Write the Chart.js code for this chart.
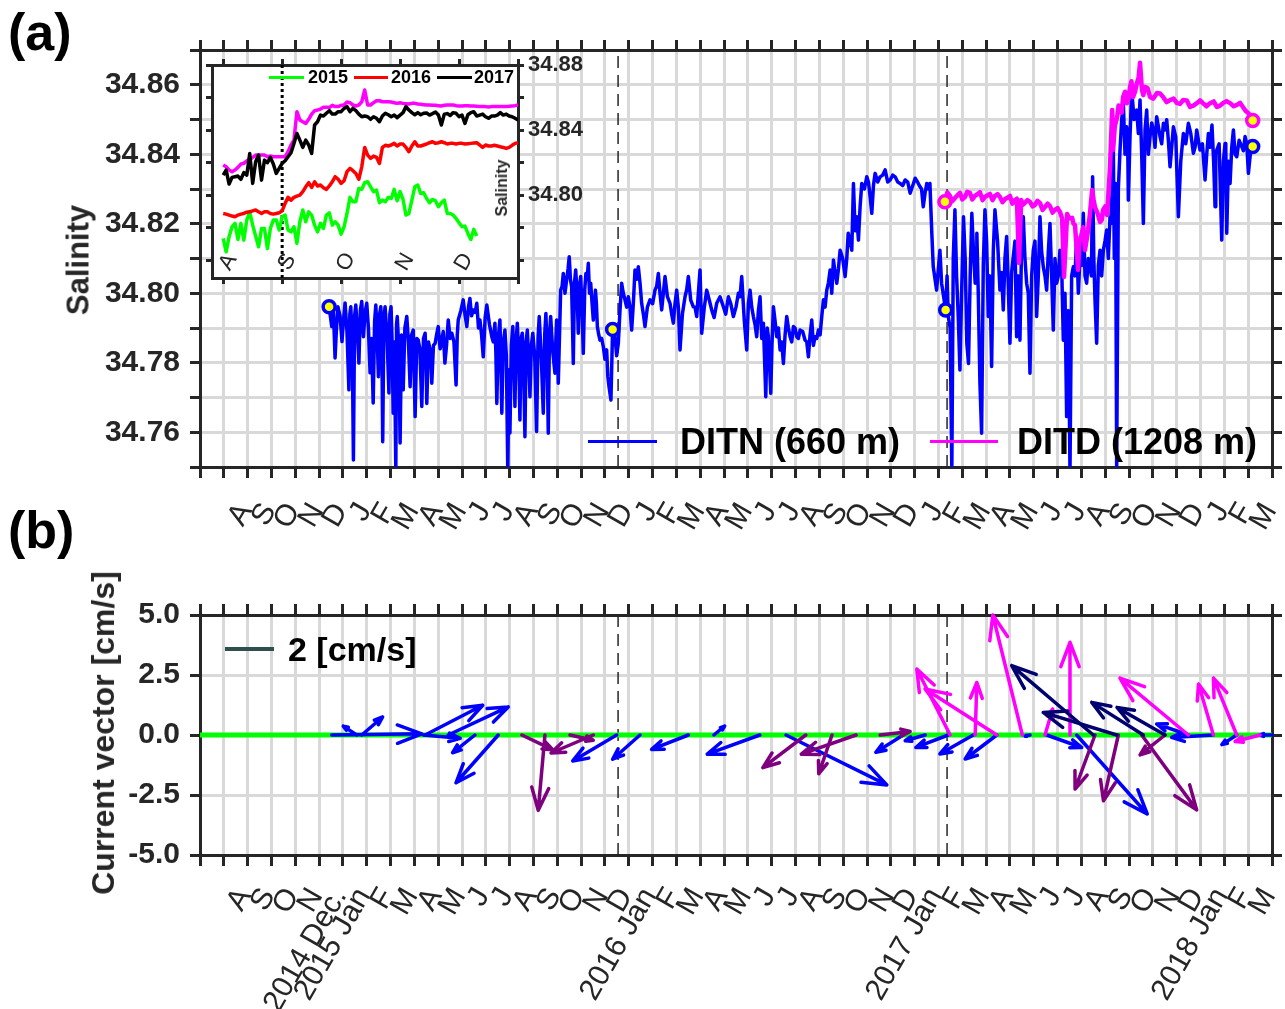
<!DOCTYPE html>
<html>
<head>
<meta charset="utf-8">
<script src="https://cdn.jsdelivr.net/npm/chart.js@4.4.1/dist/chart.umd.min.js"></script>
<style>
  html, body { margin: 0; padding: 0; background: #fff; overflow: hidden; }
  #fig { position: relative; width: 1285px; height: 1009px; font-family: "Liberation Sans", Arial, sans-serif; }
  #fig canvas { position: absolute; }
  .txt { position: absolute; font-weight: bold; line-height: 1; white-space: nowrap; color: #000; }
  .vtxt { position: absolute; font-weight: bold; line-height: 1; white-space: nowrap; color: #262626;
          transform: translate(-50%, -50%) rotate(-90deg); }
  .key { position: absolute; }
</style>
</head>
<body>
<div id="fig">
  <canvas id="chartA" width="1285" height="560" style="left:0;top:0"></canvas>
  <canvas id="chartB" width="1285" height="449" style="left:0;top:560px"></canvas>
  <canvas id="inset" width="410" height="260" style="left:190px;top:40px"></canvas>

  <div class="txt" style="left:8px;top:6px;font-size:52px">(a)</div>
  <div class="txt" style="left:8px;top:504px;font-size:52px">(b)</div>
  <div class="vtxt" style="left:78px;top:260px;font-size:31px">Salinity</div>
  <div class="vtxt" style="left:103px;top:733px;font-size:32px">Current vector [cm/s]</div>

  <div class="key" style="left:588px;top:440px;width:69px;height:3px;background:#0000ff"></div>
  <div class="txt" style="left:680px;top:424px;font-size:36px">DITN (660 m)</div>
  <div class="key" style="left:930px;top:440px;width:68px;height:3px;background:#ff00ff"></div>
  <div class="txt" style="left:1017px;top:424px;font-size:36px">DITD (1208 m)</div>

  <div class="key" style="left:225px;top:647px;width:49px;height:4px;background:#2f4f4f"></div>
  <div class="txt" style="left:288px;top:632px;font-size:34px">2 [cm/s]</div>

  <div class="key" style="left:269px;top:76px;width:35px;height:3px;background:#00ff00"></div>
  <div class="txt" style="left:308px;top:68px;font-size:18px">2015</div>
  <div class="key" style="left:354px;top:76px;width:34px;height:3px;background:#ff0000"></div>
  <div class="txt" style="left:391px;top:68px;font-size:18px">2016</div>
  <div class="key" style="left:437px;top:76px;width:35px;height:3px;background:#000000"></div>
  <div class="txt" style="left:474px;top:68px;font-size:18px">2017</div>
  <div class="vtxt" style="left:502px;top:188px;font-size:16px">Salinity</div>
</div>

<script>
// ---------- data ----------
// month tick labels (ticks are evenly spaced, index 0..45)
const monthLabelsA = ['', '', 'A', 'S', 'O', 'N', 'D', 'J', 'F', 'M', 'A', 'M', 'J', 'J',
  'A', 'S', 'O', 'N', 'D', 'J', 'F', 'M', 'A', 'M', 'J', 'J',
  'A', 'S', 'O', 'N', 'D', 'J', 'F', 'M', 'A', 'M', 'J', 'J',
  'A', 'S', 'O', 'N', 'D', 'J', 'F', 'M'];
const monthLabelsB = ['', '', 'A', 'S', 'O', 'N', '2014 Dec.', '2015 Jan', 'F', 'M', 'A', 'M', 'J', 'J',
  'A', 'S', 'O', 'N', 'D', '2016 Jan', 'F', 'M', 'A', 'M', 'J', 'J',
  'A', 'S', 'O', 'N', 'D', '2017 Jan', 'F', 'M', 'A', 'M', 'J', 'J',
  'A', 'S', 'O', 'N', 'D', '2018 Jan', 'F', 'M'];
const salinityTicks = [34.75, 34.76, 34.77, 34.78, 34.79, 34.80, 34.81, 34.82, 34.83, 34.84, 34.85, 34.86, 34.87];
const currentTicks = [-5, -2.5, 0, 2.5, 5];
const yearLines = [17.55, 31.36]; // 2016 Jan, 2017 Jan

// DITN (660 m) salinity, time in tick units: peaks and dips
const ditnTime = [5.42, 5.53, 5.67, 5.79, 5.96, 6.09, 6.25, 6.33, 6.44, 6.54,
  6.67, 6.79, 6.86, 7.00, 7.14, 7.27, 7.38, 7.49, 7.59, 7.67,
  7.77, 7.93, 8.02, 8.11, 8.22, 8.28, 8.40, 8.53, 8.68, 8.82,
  8.95, 9.03, 9.16, 9.31, 9.45, 9.52, 9.66, 9.73, 9.87, 10.00,
  10.15, 10.28, 10.42, 10.57, 10.75, 10.84, 11.05, 11.20, 11.33, 11.47,
  11.62, 11.75, 11.89, 12.04, 12.25, 12.38, 12.46, 12.59, 12.67, 12.80,
  12.92, 13.01, 13.13, 13.22, 13.32, 13.43, 13.53, 13.64, 13.74, 13.85,
  13.97, 14.13, 14.24, 14.41, 14.52, 14.62, 14.72, 14.90, 14.97, 15.04,
  15.14, 15.25, 15.39, 15.50, 15.60, 15.67, 15.77, 15.88, 15.98, 16.09,
  16.20, 16.30, 16.40, 16.51, 16.60, 16.68, 16.79, 16.93, 17.07, 17.17,
  17.25, 17.32, 17.42, 17.56, 17.70, 17.84, 17.98, 18.12, 18.26, 18.40,
  18.54, 18.68, 18.89, 19.10, 19.24, 19.38, 19.52, 19.73, 19.87, 20.01,
  20.15, 20.36, 20.50, 20.71, 20.85, 20.99, 21.06, 21.27, 21.48, 21.69,
  21.97, 22.18, 22.39, 22.60, 22.74, 22.95, 23.09, 23.23, 23.37, 23.51,
  23.65, 23.75, 23.86, 23.96, 24.07, 24.21, 24.35, 24.49, 24.63, 24.77,
  24.91, 25.05, 25.19, 25.40, 25.54, 25.68, 25.82, 25.96, 26.10, 26.17,
  26.31, 26.45, 26.59, 26.73, 26.87, 27.08, 27.21, 27.36, 27.43, 27.57,
  27.64, 27.78, 27.99, 28.13, 28.20, 28.34, 28.55, 28.76, 28.97, 29.18,
  29.39, 29.60, 29.81, 30.02, 30.22, 30.36, 30.51, 30.64, 30.72, 30.78,
  30.92, 31.06, 31.13, 31.30, 31.41, 31.56, 31.69, 31.83, 31.90, 32.05,
  32.19, 32.26, 32.40, 32.54, 32.61, 32.74, 32.81, 32.95, 33.09, 33.23,
  33.37, 33.58, 33.72, 33.86, 34.00, 34.14, 34.28, 34.42, 34.56, 34.70,
  34.84, 34.98, 35.12, 35.26, 35.40, 35.54, 35.68, 35.82, 35.96, 36.10,
  36.24, 36.38, 36.52, 36.66, 36.80, 36.94, 37.08, 37.22, 37.36, 37.47,
  37.57, 37.64, 37.78, 37.92, 38.06, 38.20, 38.27, 38.34, 38.41, 38.48,
  38.62, 38.76, 38.90, 38.97, 39.11, 39.32, 39.46, 39.60, 39.74, 39.88,
  40.02, 40.16, 40.30, 40.44, 40.58, 40.72, 40.86, 41.07, 41.28, 41.49,
  41.70, 41.84, 41.98, 42.19, 42.33, 42.48, 42.61, 42.68, 42.89, 43.03,
  43.10, 43.24, 43.38, 43.52, 43.73, 43.87, 44.01, 44.11, 44.19];
const ditnSalinity = [34.7961, 34.7904, 34.7814, 34.7961, 34.7861, 34.7972, 34.7722, 34.7961, 34.7520, 34.7966,
  34.7799, 34.7976, 34.7875, 34.7971, 34.7771, 34.7684, 34.7966, 34.7760, 34.7961, 34.7573,
  34.7961, 34.7713, 34.7961, 34.7655, 34.7490, 34.7933, 34.7569, 34.7722, 34.7933, 34.7731,
  34.7894, 34.7645, 34.7865, 34.7674, 34.7885, 34.7683, 34.7837, 34.7741, 34.7856, 34.7904,
  34.7865, 34.7799, 34.7923, 34.7885, 34.7736, 34.7923, 34.7981, 34.7904, 34.7985, 34.7952,
  34.7971, 34.7923, 34.7817, 34.7966, 34.7875, 34.7914, 34.7683, 34.7923, 34.7655, 34.7894,
  34.7490, 34.7598, 34.7904, 34.7674, 34.7914, 34.7635, 34.7885, 34.7587, 34.7894, 34.7702,
  34.7885, 34.7602, 34.7933, 34.7655, 34.7942, 34.7597, 34.7933, 34.7770, 34.7923, 34.7741,
  34.8009, 34.8057, 34.8038, 34.8105, 34.8019, 34.7798, 34.8067, 34.7885, 34.8048, 34.7827,
  34.8057, 34.8086, 34.8029, 34.7923, 34.8009, 34.7904, 34.7865, 34.7846, 34.7837, 34.7731,
  34.7693, 34.7896, 34.7875, 34.7856, 34.8029, 34.7981, 34.7990, 34.7894, 34.8067, 34.8076,
  34.7971, 34.7904, 34.7981, 34.8009, 34.8057, 34.7952, 34.8048, 34.7971, 34.7914, 34.8009,
  34.7837, 34.7990, 34.8048, 34.7961, 34.7933, 34.8067, 34.7885, 34.8009, 34.7952, 34.7971,
  34.7961, 34.7990, 34.7933, 34.8000, 34.8048, 34.7837, 34.8009, 34.7933, 34.7875, 34.7990,
  34.7914, 34.7702, 34.7875, 34.7712, 34.7961, 34.7875, 34.7837, 34.7798, 34.7933, 34.7875,
  34.7904, 34.7875, 34.7894, 34.7865, 34.7817, 34.7923, 34.7875, 34.7894, 34.7933, 34.7981,
  34.8009, 34.8067, 34.8096, 34.8029, 34.8124, 34.8048, 34.8173, 34.8124, 34.8316, 34.8220,
  34.8153, 34.8316, 34.8335, 34.8278, 34.8230, 34.8345, 34.8335, 34.8355, 34.8326, 34.8335,
  34.8316, 34.8326, 34.8288, 34.8331, 34.8307, 34.8249, 34.8316, 34.8316, 34.8173, 34.8076,
  34.8009, 34.8124, 34.8029, 34.7952, 34.7933, 34.7490, 34.8240, 34.7933, 34.7779, 34.8220,
  34.7856, 34.7798, 34.8230, 34.8029, 34.8173, 34.7741, 34.7597, 34.8240, 34.7933, 34.7789,
  34.8240, 34.8009, 34.7952, 34.8163, 34.7856, 34.8105, 34.7875, 34.7865, 34.8220, 34.8029,
  34.7770, 34.8124, 34.7933, 34.8220, 34.8076, 34.8009, 34.8201, 34.7894, 34.8029, 34.8124,
  34.7865, 34.7645, 34.7490, 34.8076, 34.8163, 34.8105, 34.8230, 34.8029, 34.8076, 34.8335,
  34.7981, 34.7856, 34.8124, 34.8124, 34.8182, 34.8220, 34.8268, 34.8412, 34.8316, 34.7490,
  34.8412, 34.8547, 34.8479, 34.8268, 34.8585, 34.8527, 34.8556, 34.8201, 34.8527, 34.8451,
  34.8470, 34.8508, 34.8451, 34.8489, 34.8499, 34.8364, 34.8479, 34.8220, 34.8460, 34.8489,
  34.8403, 34.8470, 34.8412, 34.8326, 34.8460, 34.8484, 34.8249, 34.8412, 34.8153, 34.8431,
  34.8173, 34.8316, 34.8470, 34.8393, 34.8422, 34.8451, 34.8345, 34.8412, 34.8422];
// DITN readings of the dense middle of the band, between the peaks and dips above
const ditnBandTime = [5.48, 5.60, 5.73, 5.88, 6.02, 6.17, 6.29, 6.39, 6.49, 6.60,
  6.73, 6.83, 6.93, 7.07, 7.20, 7.33, 7.43, 7.54, 7.63, 7.72,
  7.85, 7.97, 8.06, 8.16, 8.25, 8.34, 8.46, 8.60, 8.75, 8.88,
  9.10, 9.23, 9.38, 9.49, 9.59, 9.70, 9.80, 9.93, 10.08, 10.21,
  10.35, 10.50, 10.66, 10.80, 10.95, 11.12, 11.27, 11.40, 11.55, 11.69,
  11.82, 11.97, 12.15, 12.31, 12.42, 12.52, 12.63, 12.73, 12.86, 12.97,
  13.07, 13.18, 13.27, 13.38, 13.48, 13.58, 13.69, 13.80, 13.91, 14.05,
  14.19, 14.33, 14.47, 14.57, 14.67, 14.81, 14.94, 15.01, 15.20, 15.32,
  15.45, 15.55, 15.64, 15.72, 15.83, 15.93, 16.04, 16.15, 16.25, 16.35,
  16.46, 16.56, 16.64, 16.74, 16.86, 17.00, 17.12, 17.49, 17.63, 17.77,
  17.91, 18.05, 18.19, 18.33, 18.47, 18.61, 18.78, 19.00, 19.17, 19.31,
  19.45, 19.62, 19.80, 19.94, 20.08, 20.25, 20.43, 20.60, 20.78, 20.92,
  21.17, 21.38, 21.58, 21.83, 22.07, 22.28, 22.50, 22.67, 22.85, 23.02,
  23.16, 23.30, 23.44, 23.58, 23.81, 24.01, 24.14, 24.28, 24.42, 24.56,
  24.70, 24.84, 24.98, 25.12, 25.30, 25.47, 25.61, 25.75, 25.89, 26.03,
  26.24, 26.38, 26.52, 26.66, 26.80, 26.98, 27.15, 27.29, 27.50, 27.71,
  27.89, 28.06, 28.27, 28.45, 28.66, 28.87, 29.08, 29.29, 29.50, 29.71,
  29.92, 30.12, 30.29, 30.44, 30.58, 31.36, 31.49, 31.62, 31.76, 31.97,
  32.12, 32.33, 32.47, 32.58, 32.67, 32.88, 33.02, 33.16, 33.30, 33.48,
  33.65, 33.79, 33.93, 34.07, 34.21, 34.35, 34.49, 34.63, 34.77, 34.91,
  35.05, 35.19, 35.33, 35.47, 35.61, 35.75, 35.89, 36.03, 36.17, 36.31,
  36.45, 36.59, 36.73, 36.87, 37.01, 37.15, 37.29, 37.42, 37.52, 37.71,
  37.85, 37.99, 38.13, 38.23, 38.30, 38.38, 38.44, 38.55, 38.69, 38.83,
  38.94, 39.04, 39.21, 39.39, 39.53, 39.67, 39.81, 39.95, 40.09, 40.23,
  40.37, 40.51, 40.65, 40.79, 40.96, 41.17, 41.38, 41.59, 41.77, 41.91,
  42.08, 42.26, 42.40, 42.55, 42.64, 42.78, 42.96, 43.06, 43.17, 43.31,
  43.45, 43.62, 43.80, 43.94, 44.06, 44.15];
const ditnBandSalinity = [34.7930, 34.7950, 34.7900, 34.7935, 34.7920, 34.7890, 34.7940, 34.7860, 34.7935, 34.7900,
  34.7950, 34.7920, 34.7945, 34.7900, 34.7870, 34.7920, 34.7890, 34.7940, 34.7880, 34.7930,
  34.7880, 34.7940, 34.7870, 34.7860, 34.7910, 34.7850, 34.7880, 34.7900, 34.7860, 34.7880,
  34.7870, 34.7840, 34.7870, 34.7810, 34.7860, 34.7800, 34.7850, 34.7880, 34.7840, 34.7890,
  34.7850, 34.7870, 34.7860, 34.7880, 34.7950, 34.7940, 34.7960, 34.7935, 34.7945, 34.7900,
  34.7880, 34.7930, 34.7910, 34.7860, 34.7830, 34.7870, 34.7800, 34.7860, 34.7820, 34.7780,
  34.7850, 34.7800, 34.7860, 34.7820, 34.7870, 34.7800, 34.7860, 34.7810, 34.7850, 34.7820,
  34.7870, 34.7810, 34.7880, 34.7830, 34.7880, 34.7830, 34.7870, 34.7850, 34.8020, 34.8000,
  34.8070, 34.8040, 34.7900, 34.8030, 34.8000, 34.8020, 34.7950, 34.8010, 34.8040, 34.8000,
  34.7970, 34.7960, 34.7970, 34.7880, 34.7870, 34.7810, 34.7760, 34.7820, 34.7950, 34.8000,
  34.7960, 34.7960, 34.7970, 34.8040, 34.8030, 34.7940, 34.7960, 34.7970, 34.8020, 34.8000,
  34.8000, 34.7990, 34.7940, 34.7970, 34.7960, 34.7940, 34.8010, 34.7980, 34.7960, 34.8000,
  34.7960, 34.7980, 34.7930, 34.7990, 34.7940, 34.7970, 34.7960, 34.7990, 34.7920, 34.7970,
  34.7960, 34.7910, 34.7950, 34.7870, 34.7900, 34.7850, 34.7920, 34.7900, 34.7860, 34.7880,
  34.7900, 34.7860, 34.7900, 34.7870, 34.7890, 34.7860, 34.7880, 34.7850, 34.7870, 34.7880,
  34.7960, 34.8030, 34.8000, 34.8060, 34.8070, 34.8100, 34.8100, 34.8150, 34.8180, 34.8250,
  34.8300, 34.8320, 34.8310, 34.8320, 34.8340, 34.8320, 34.8340, 34.8320, 34.8310, 34.8320,
  34.8310, 34.8320, 34.8300, 34.8290, 34.8300, 34.8050, 34.7900, 34.8100, 34.8050, 34.8000,
  34.8100, 34.8050, 34.8120, 34.8060, 34.8000, 34.8080, 34.8150, 34.8050, 34.8120, 34.8150,
  34.8060, 34.8100, 34.8020, 34.8060, 34.8150, 34.8050, 34.8150, 34.8100, 34.8000, 34.8050,
  34.8150, 34.8050, 34.8120, 34.8050, 34.8120, 34.8050, 34.8100, 34.8050, 34.8080, 34.8000,
  34.7950, 34.8050, 34.8050, 34.8000, 34.8080, 34.8050, 34.8100, 34.8050, 34.8100, 34.8080,
  34.8050, 34.8150, 34.8100, 34.8200, 34.8300, 34.8100, 34.8200, 34.8300, 34.8500, 34.8400,
  34.8450, 34.8450, 34.8500, 34.8460, 34.8400, 34.8470, 34.8400, 34.8490, 34.8420, 34.8480,
  34.8430, 34.8470, 34.8440, 34.8420, 34.8450, 34.8380, 34.8430, 34.8460, 34.8420, 34.8440,
  34.8430, 34.8400, 34.8420, 34.8380, 34.8400, 34.8430, 34.8380, 34.8420, 34.8380, 34.8420,
  34.8400, 34.8440, 34.8410, 34.8430, 34.8380, 34.8410];

// DITD (1208 m) salinity
const ditdTime = [31.27, 31.48, 31.69, 31.90, 32.11, 32.32, 32.53, 32.74, 32.95, 33.16,
  33.37, 33.58, 33.79, 34.00, 34.21, 34.38, 34.47, 34.63, 34.84, 35.05,
  35.26, 35.47, 35.68, 35.89, 36.10, 36.27, 36.40, 36.61, 36.73, 36.86,
  36.98, 37.15, 37.28, 37.45, 37.57, 37.78, 37.91, 38.08, 38.20, 38.29,
  38.33, 38.50, 38.62, 38.75, 38.91, 39.04, 39.17, 39.33, 39.46, 39.54,
  39.67, 39.88, 40.17, 40.43, 40.72, 41.01, 41.27, 41.56, 41.85, 42.10,
  42.40, 42.69, 42.94, 43.24, 43.53, 43.78, 43.99, 44.19];
const ditdSalinity = [34.8263, 34.8280, 34.8274, 34.8289, 34.8277, 34.8289, 34.8280, 34.8291, 34.8277, 34.8286,
  34.8280, 34.8277, 34.8271, 34.8280, 34.8268, 34.8087, 34.8268, 34.8260, 34.8263, 34.8254,
  34.8260, 34.8248, 34.8251, 34.8240, 34.8234, 34.8047, 34.8228, 34.8217, 34.8196, 34.8067,
  34.8162, 34.8124, 34.8182, 34.8297, 34.8248, 34.8205, 34.8240, 34.8225, 34.8363, 34.8527,
  34.8412, 34.8507, 34.8536, 34.8565, 34.8547, 34.8594, 34.8565, 34.8605, 34.8663, 34.8585,
  34.8594, 34.8565, 34.8576, 34.8565, 34.8556, 34.8547, 34.8556, 34.8536, 34.8547, 34.8547,
  34.8547, 34.8536, 34.8547, 34.8547, 34.8542, 34.8536, 34.8519, 34.8497];
const ditdBandTime = [31.37, 31.58, 31.80, 32.00, 32.21, 32.42, 32.64, 32.85, 33.06, 33.27,
  33.48, 33.69, 33.90, 34.10, 34.29, 34.55, 34.73, 34.95, 35.15, 35.37,
  35.58, 35.79, 36.00, 36.19, 36.50, 36.67, 36.92, 37.07, 37.21, 37.36,
  37.51, 37.68, 37.85, 38.00, 38.40, 38.56, 38.69, 38.83, 38.98, 39.10,
  39.25, 39.40, 39.60, 39.78, 40.02, 40.30, 40.58, 40.87, 41.14, 41.42,
  41.70, 41.98, 42.25, 42.55, 42.82, 43.09, 43.39, 43.66, 43.89, 44.10];
const ditdBandSalinity = [34.8290, 34.8265, 34.8282, 34.8270, 34.8292, 34.8270, 34.8285, 34.8268, 34.8282, 34.8268,
  34.8285, 34.8262, 34.8275, 34.8258, 34.8272, 34.8255, 34.8268, 34.8250, 34.8266, 34.8240,
  34.8258, 34.8232, 34.8245, 34.8215, 34.8215, 34.8200, 34.8150, 34.8190, 34.8150, 34.8230,
  34.8270, 34.8230, 34.8210, 34.8250, 34.8480, 34.8540, 34.8520, 34.8580, 34.8560, 34.8610,
  34.8580, 34.8620, 34.8570, 34.8590, 34.8560, 34.8575, 34.8550, 34.8560, 34.8545, 34.8555,
  34.8540, 34.8555, 34.8538, 34.8552, 34.8540, 34.8553, 34.8538, 34.8548, 34.8525, 34.8512];

// deployment start / end markers
const ditnMarkTime = [5.42, 17.32, 31.30, 44.19];
const ditnMarkSal = [34.7961, 34.7896, 34.7952, 34.8422];
const ditdMarkTime = [31.27, 44.19];
const ditdMarkSal = [34.8263, 34.8497];

// inset: Aug-Dec of each year, time in months from 1 Aug, one value every 0.05 month
const insetStep = 0.05;
const insetMonths = ['A', 'S', 'O', 'N', 'D'];
const insetMonthTicks = [0, 1, 2, 3, 4, 5];
const insetTicks = [34.76, 34.78, 34.80, 34.82, 34.84, 34.86, 34.88];
const sal2015 = [34.7733, 34.7651, 34.7744, 34.7805, 34.7826, 34.7727, 34.7826, 34.7723, 34.7846, 34.7897,
  34.7815, 34.7748, 34.7682, 34.7795, 34.7795, 34.7672, 34.7795, 34.7846, 34.7846, 34.7785,
  34.7867, 34.7877, 34.7785, 34.7774, 34.7805, 34.7703, 34.7836, 34.7908, 34.7836, 34.7897,
  34.7877, 34.7815, 34.7774, 34.7826, 34.7795, 34.7877, 34.7891, 34.7815, 34.7836, 34.7815,
  34.7760, 34.7805, 34.7887, 34.7986, 34.7959, 34.7959, 34.8041, 34.8035, 34.8076, 34.8082,
  34.8051, 34.8021, 34.8031, 34.7953, 34.7969, 34.7959, 34.7986, 34.7979, 34.8035, 34.7965,
  34.8021, 34.7973, 34.7877, 34.7887, 34.7969, 34.8051, 34.8062, 34.8010, 34.8014, 34.7979,
  34.7953, 34.7973, 34.7965, 34.7928, 34.7953, 34.7969, 34.7887, 34.7887, 34.7877, 34.7856,
  34.7830, 34.7805, 34.7809, 34.7764, 34.7727, 34.7789, 34.7748];
const sal2016 = [34.7887, 34.7883, 34.7877, 34.7871, 34.7867, 34.7877, 34.7883, 34.7887, 34.7895, 34.7897,
  34.7903, 34.7908, 34.7897, 34.7887, 34.7897, 34.7897, 34.7887, 34.7883, 34.7887, 34.7891,
  34.7903, 34.7949, 34.7986, 34.7969, 34.7986, 34.7994, 34.8000, 34.8021, 34.8051, 34.8076,
  34.8047, 34.8082, 34.8056, 34.8062, 34.8045, 34.8035, 34.8056, 34.8082, 34.8113, 34.8097,
  34.8072, 34.8088, 34.8144, 34.8164, 34.8150, 34.8133, 34.8097, 34.8174, 34.8293, 34.8246,
  34.8226, 34.8240, 34.8232, 34.8195, 34.8293, 34.8306, 34.8302, 34.8308, 34.8318, 34.8302,
  34.8314, 34.8314, 34.8293, 34.8267, 34.8302, 34.8328, 34.8302, 34.8302, 34.8308, 34.8314,
  34.8322, 34.8328, 34.8318, 34.8322, 34.8328, 34.8322, 34.8314, 34.8318, 34.8318, 34.8314,
  34.8318, 34.8318, 34.8314, 34.8316, 34.8318, 34.8320, 34.8322, 34.8308, 34.8293, 34.8308,
  34.8302, 34.8302, 34.8306, 34.8302, 34.8297, 34.8293, 34.8287, 34.8293, 34.8306, 34.8318,
  34.8322];
const sal2017 = [34.8123, 34.8154, 34.8068, 34.8109, 34.8113, 34.8117, 34.8097, 34.8138, 34.8123, 34.8256,
  34.8072, 34.8205, 34.8246, 34.8092, 34.8215, 34.8199, 34.8232, 34.8191, 34.8133, 34.8164,
  34.8195, 34.8211, 34.8236, 34.8260, 34.8318, 34.8379, 34.8338, 34.8293, 34.8338, 34.8308,
  34.8256, 34.8431, 34.8451, 34.8492, 34.8486, 34.8503, 34.8519, 34.8498, 34.8498, 34.8513,
  34.8513, 34.8533, 34.8544, 34.8513, 34.8533, 34.8519, 34.8498, 34.8482, 34.8486, 34.8482,
  34.8466, 34.8482, 34.8472, 34.8451, 34.8486, 34.8503, 34.8494, 34.8482, 34.8492, 34.8476,
  34.8492, 34.8507, 34.8544, 34.8523, 34.8507, 34.8494, 34.8507, 34.8494, 34.8503, 34.8505,
  34.8492, 34.8501, 34.8511, 34.8492, 34.8431, 34.8498, 34.8501, 34.8490, 34.8507, 34.8503,
  34.8482, 34.8492, 34.8441, 34.8494, 34.8507, 34.8513, 34.8486, 34.8492, 34.8498, 34.8482,
  34.8472, 34.8486, 34.8486, 34.8492, 34.8507, 34.8492, 34.8498, 34.8486, 34.8482, 34.8472,
  34.8462];
const sal2017deep = [34.8185, 34.8174, 34.8154, 34.8144, 34.8154, 34.8170, 34.8191, 34.8195, 34.8211, 34.8219,
  34.8232, 34.8246, 34.8246, 34.8246, 34.8246, 34.8236, 34.8240, 34.8236, 34.8236, 34.8236,
  34.8236, 34.8236, 34.8267, 34.8308, 34.8338, 34.8513, 34.8462, 34.8451, 34.8441, 34.8466,
  34.8498, 34.8519, 34.8523, 34.8529, 34.8540, 34.8540, 34.8538, 34.8552, 34.8544, 34.8544,
  34.8552, 34.8554, 34.8572, 34.8568, 34.8554, 34.8548, 34.8554, 34.8574, 34.8646, 34.8554,
  34.8554, 34.8568, 34.8580, 34.8580, 34.8574, 34.8574, 34.8574, 34.8572, 34.8568, 34.8564,
  34.8568, 34.8564, 34.8562, 34.8560, 34.8564, 34.8564, 34.8560, 34.8558, 34.8556, 34.8554,
  34.8554, 34.8552, 34.8552, 34.8550, 34.8548, 34.8552, 34.8554, 34.8554, 34.8554, 34.8550,
  34.8548, 34.8548, 34.8550, 34.8550, 34.8548, 34.8548, 34.8546, 34.8544, 34.8544, 34.8544,
  34.8542, 34.8544, 34.8544, 34.8544, 34.8544, 34.8544, 34.8544, 34.8546, 34.8548, 34.8550,
  34.8554];

// current vectors (cm/s): base time in tick units, east (u) and north (v) components
const blueTime = [5.53, 6.58, 6.79, 9.37, 9.45, 10.42, 11.54, 12.52, 17.49, 18.47, 20.50, 21.57, 23.50,
  24.60, 29.52, 30.44, 31.41, 32.46, 33.45, 34.84, 35.54, 36.80, 41.49, 42.54, 43.52, 45.00];
const blueU = [3.75, -0.56, 0.87, 1.54, 2.40, 2.50, -0.93, -1.76, -1.83, -1.14, -1.53, 0.45, -2.19,
  4.20, -1.14, -0.83, -1.35, -1.39, -1.32, -0.20, 1.46, 2.94, -1.32, -1.74, -0.62, -0.50];
const blueV = [0.05, 0.37, 0.75, -0.14, 1.24, 1.17, -0.74, -1.99, -1.08, -1.01, -0.60, 0.37, -0.80,
  -2.08, -0.72, -0.24, -0.52, -0.79, -1.00, -0.05, -0.52, -3.29, 0.46, -0.10, -0.40, 0.00];
const purpleTime = [13.51, 14.48, 15.53, 16.51, 25.43, 26.53, 27.54, 28.55, 37.57, 38.55, 39.53, 40.51];
const purpleU = [1.30, -0.28, 0.97, -1.76, -1.79, -0.55, -2.28, 1.25, -0.83, -0.62, 2.29, -1.04];
const purpleV = [-0.62, -3.14, -0.22, -0.75, -1.36, -1.61, -0.80, 0.15, -2.25, -2.74, -3.12, -0.83];
const magentaTime = [31.49, 32.54, 33.45, 34.52, 35.47, 36.52, 41.49, 42.54, 43.52, 44.50];
const magentaU = [-1.39, 0.07, -2.99, -1.23, 0.32, 0.00, -2.85, -0.62, -0.97, -1.04];
const magentaV = [2.75, 2.19, 1.92, 5.00, 1.08, 3.86, 2.37, 2.12, 2.37, -0.27];
const navyTime = [37.50, 38.48, 39.60, 40.51];
const navyU = [-3.40, -3.06, -2.15, -2.00];
const navyV = [2.89, 0.94, 1.36, 1.15];

// ---------- styling helpers ----------
const INK = '#262626';
const GRID = '#d9d9d9';
const FONT = '"Liberation Sans", Arial, sans-serif';

const toXY = (xs, ys) => xs.map((x, i) => ({ x: x, y: ys[i] }));
const byTime = (a, b) => a.x - b.x;
const monthTicks = monthLabelsA.map((_, i) => i);

const ditnPoints = toXY(ditnTime, ditnSalinity).concat(toXY(ditnBandTime, ditnBandSalinity)).sort(byTime);
const ditdPoints = toXY(ditdTime, ditdSalinity).concat(toXY(ditdBandTime, ditdBandSalinity)).sort(byTime);

function fixedBox(prop, size) {
  return function (s) {
    s[prop] = size;
    s.paddingLeft = s.paddingRight = s.paddingTop = s.paddingBottom = 0;
  };
}
function setTicks(values) {
  return function (s) { s.ticks = values.map(v => ({ value: v })); };
}
function gridOpts(onArea, len) {
  return { display: true, drawOnChartArea: onArea, color: GRID, lineWidth: 3,
           tickColor: INK, tickWidth: 3, tickLength: len };
}
const border = { color: INK, width: 3 };

function dashed(x, lo, hi) {
  return { data: [{ x: x, y: lo }, { x: x, y: hi }], borderColor: INK, borderWidth: 1.5,
           borderDash: [12, 7], pointRadius: 0, order: 9 };
}

const baseOptions = {
  responsive: false,
  animation: false,
  events: [],
  layout: { padding: 0 },
  plugins: { legend: { display: false }, tooltip: { enabled: false } },
  elements: { point: { radius: 0 }, line: { tension: 0, borderJoinStyle: 'round' } }
};

// ---------- (a) salinity ----------
new Chart(document.getElementById('chartA'), {
  type: 'line',
  data: {
    datasets: [
      dashed(yearLines[0], 34.75, 34.87),
      dashed(yearLines[1], 34.75, 34.87),
      { data: ditnPoints, borderColor: '#0000ff', borderWidth: 3.5, order: 3 },
      { data: ditdPoints, borderColor: '#ff00ff', borderWidth: 4.5, order: 2 },
      { data: toXY(ditnMarkTime, ditnMarkSal), showLine: false, pointRadius: 6,
        pointBackgroundColor: '#ffff00', pointBorderColor: '#0000ff', pointBorderWidth: 3.5, order: 1 },
      { data: toXY(ditdMarkTime, ditdMarkSal), showLine: false, pointRadius: 6,
        pointBackgroundColor: '#ffff00', pointBorderColor: '#ff00ff', pointBorderWidth: 3.5, order: 0 }
    ]
  },
  options: Object.assign({}, baseOptions, {
    scales: {
      x: {
        type: 'linear', position: 'bottom', bounds: 'data', min: 0, max: 45,
        afterBuildTicks: setTicks(monthTicks),
        ticks: { autoSkip: false, minRotation: 60, maxRotation: 60, padding: 19, labelOffset: -2,
                 color: INK, font: { family: FONT, size: 30 }, callback: v => monthLabelsA[v] },
        grid: gridOpts(true, 11), border: border, afterFit: fixedBox('height', 93)
      },
      x2: {
        type: 'linear', position: 'top', bounds: 'data', min: 0, max: 45,
        afterBuildTicks: setTicks(monthTicks), ticks: { display: false },
        grid: gridOpts(false, 10), border: border, afterFit: fixedBox('height', 50)
      },
      y: {
        type: 'linear', position: 'left', bounds: 'data', min: 34.75, max: 34.87,
        afterBuildTicks: setTicks(salinityTicks),
        ticks: { autoSkip: false, padding: 10, color: INK, font: { family: FONT, size: 30, weight: 'bold' },
                 callback: v => (Math.round(v * 100) % 2 === 0 ? v.toFixed(2) : '') },
        grid: gridOpts(true, 10), border: border, afterFit: fixedBox('width', 200)
      },
      y2: {
        type: 'linear', position: 'right', bounds: 'data', min: 34.75, max: 34.87,
        afterBuildTicks: setTicks(salinityTicks), ticks: { display: false },
        grid: gridOpts(false, 10), border: border, afterFit: fixedBox('width', 13)
      }
    }
  })
});

// ---------- inset ----------
const insetPlugin = {
  id: 'insetExtras',
  beforeDraw(chart) {
    const a = chart.chartArea, ctx = chart.ctx;
    ctx.save();
    ctx.fillStyle = '#ffffff';
    ctx.fillRect(a.left, a.top, a.right - a.left, a.bottom - a.top);
    ctx.restore();
  },
  afterDraw(chart) {
    const xs = chart.scales.x, ctx = chart.ctx;
    ctx.save();
    ctx.font = '22px ' + FONT;
    ctx.fillStyle = INK;
    ctx.textAlign = 'center';
    ctx.textBaseline = 'middle';
    insetMonths.forEach((m, i) => {
      ctx.save();
      ctx.translate(xs.getPixelForValue(i) + 5, chart.chartArea.bottom - 16);
      ctx.rotate(-Math.PI / 3);
      ctx.fillText(m, 0, 0);
      ctx.restore();
    });
    ctx.restore();
  }
};
const insetSeries = (vals) => vals.map((v, i) => ({ x: i * insetStep, y: v }));

new Chart(document.getElementById('inset'), {
  type: 'line',
  data: {
    datasets: [
      { data: [{ x: 1, y: 34.749 }, { x: 1, y: 34.88 }], borderColor: '#000', borderWidth: 3,
        borderDash: [3, 3], order: 9 },
      { data: insetSeries(sal2017deep), borderColor: '#ff00ff', borderWidth: 3.5, order: 4 },
      { data: insetSeries(sal2015), borderColor: '#00ff00', borderWidth: 3.5, order: 3 },
      { data: insetSeries(sal2016), borderColor: '#ff0000', borderWidth: 3.5, order: 2 },
      { data: insetSeries(sal2017), borderColor: '#000000', borderWidth: 3.5, order: 1 }
    ]
  },
  options: Object.assign({}, baseOptions, {
    scales: {
      x: {
        type: 'linear', position: 'bottom', bounds: 'data', min: -0.19, max: 5,
        afterBuildTicks: setTicks(insetMonthTicks), ticks: { display: false },
        grid: gridOpts(false, 6), border: border, afterFit: fixedBox('height', 22)
      },
      x2: {
        type: 'linear', position: 'top', bounds: 'data', min: -0.19, max: 5,
        afterBuildTicks: setTicks(insetMonthTicks), ticks: { display: false },
        grid: gridOpts(false, 6), border: border, afterFit: fixedBox('height', 25)
      },
      y: {
        type: 'linear', position: 'left', bounds: 'data', min: 34.749, max: 34.88,
        afterBuildTicks: setTicks(insetTicks), ticks: { display: false },
        grid: gridOpts(false, 6), border: border, afterFit: fixedBox('width', 22)
      },
      y2: {
        type: 'linear', position: 'right', bounds: 'data', min: 34.749, max: 34.88,
        afterBuildTicks: setTicks(insetTicks),
        ticks: { autoSkip: false, padding: 4, color: INK, font: { family: FONT, size: 22, weight: 'bold' },
                 callback: v => ([3480, 3484, 3488].includes(Math.round(v * 100)) ? v.toFixed(2) : '') },
        grid: gridOpts(false, 6), border: border, afterFit: fixedBox('width', 82)
      }
    }
  }),
  plugins: [insetPlugin]
});

// ---------- (b) current vectors ----------
const vectorGroups = [
  { color: '#0000ff', t: blueTime, u: blueU, v: blueV },
  { color: '#7e007e', t: purpleTime, u: purpleU, v: purpleV },
  { color: '#ff00ff', t: magentaTime, u: magentaU, v: magentaV },
  { color: '#00006e', t: navyTime, u: navyU, v: navyV }
];

const quiverPlugin = {
  id: 'quiver',
  afterDatasetsDraw(chart) {
    const xs = chart.scales.x, ys = chart.scales.y, ctx = chart.ctx;
    const y0 = ys.getPixelForValue(0);
    const ppu = y0 - ys.getPixelForValue(1); // same scale for both components
    ctx.save();
    ctx.lineWidth = 3.5;
    ctx.lineCap = 'round';
    ctx.lineJoin = 'round';
    vectorGroups.forEach(g => {
      ctx.strokeStyle = g.color;
      g.t.forEach((t, i) => {
        const x0 = xs.getPixelForValue(t);
        const x1 = x0 + g.u[i] * ppu;
        const y1 = y0 - g.v[i] * ppu;
        const len = Math.hypot(x1 - x0, y1 - y0);
        const ang = Math.atan2(y1 - y0, x1 - x0);
        const head = Math.min(26, 0.32 * len);
        ctx.beginPath();
        ctx.moveTo(x0, y0);
        ctx.lineTo(x1, y1);
        ctx.moveTo(x1 - head * Math.cos(ang - 0.36), y1 - head * Math.sin(ang - 0.36));
        ctx.lineTo(x1, y1);
        ctx.lineTo(x1 - head * Math.cos(ang + 0.36), y1 - head * Math.sin(ang + 0.36));
        ctx.stroke();
      });
    });
    ctx.restore();
  }
};

new Chart(document.getElementById('chartB'), {
  type: 'line',
  data: {
    datasets: [
      dashed(yearLines[0], -5, 5),
      dashed(yearLines[1], -5, 5),
      { data: [{ x: 0, y: 0 }, { x: 45, y: 0 }], borderColor: '#00ff00', borderWidth: 5, order: 5 }
    ]
  },
  options: Object.assign({}, baseOptions, {
    scales: {
      x: {
        type: 'linear', position: 'bottom', bounds: 'data', min: 0, max: 45,
        afterBuildTicks: setTicks(monthTicks),
        ticks: { autoSkip: false, minRotation: 60, maxRotation: 60, padding: 16, labelOffset: -3,
                 color: INK, font: { family: FONT, size: 30 }, callback: v => monthLabelsB[v] },
        grid: gridOpts(true, 11), border: border, afterFit: fixedBox('height', 154)
      },
      x2: {
        type: 'linear', position: 'top', bounds: 'data', min: 0, max: 45,
        afterBuildTicks: setTicks(monthTicks), ticks: { display: false },
        grid: gridOpts(false, 11), border: border, afterFit: fixedBox('height', 55)
      },
      y: {
        type: 'linear', position: 'left', bounds: 'data', min: -5, max: 5,
        afterBuildTicks: setTicks(currentTicks),
        ticks: { autoSkip: false, padding: 10, color: INK, font: { family: FONT, size: 30, weight: 'bold' },
                 callback: v => v.toFixed(1) },
        grid: gridOpts(true, 10), border: border, afterFit: fixedBox('width', 200)
      },
      y2: {
        type: 'linear', position: 'right', bounds: 'data', min: -5, max: 5,
        afterBuildTicks: setTicks(currentTicks), ticks: { display: false },
        grid: gridOpts(false, 10), border: border, afterFit: fixedBox('width', 13)
      }
    }
  }),
  plugins: [quiverPlugin]
});
</script>
</body>
</html>
